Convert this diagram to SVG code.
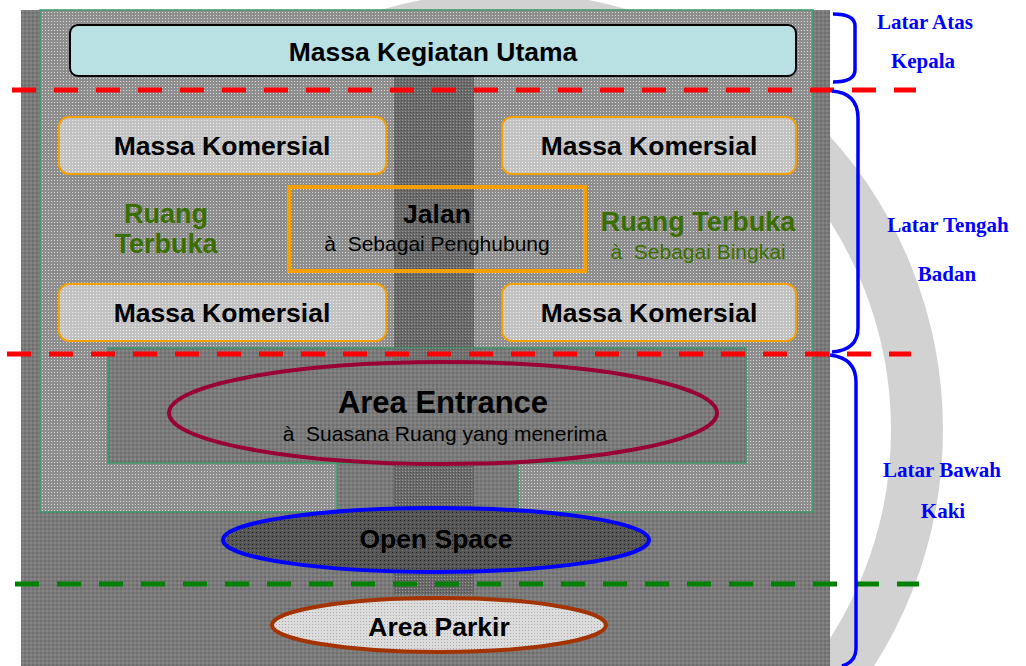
<svg xmlns="http://www.w3.org/2000/svg" width="1026" height="666" viewBox="0 0 1026 666">
<defs>
<pattern id="pLight" width="3" height="3" patternUnits="userSpaceOnUse"><rect width="3" height="3" fill="#8e8e8e"/><rect width="1" height="1" fill="#d8d8d8"/></pattern>
<pattern id="pDark" width="4" height="4" patternUnits="userSpaceOnUse"><rect width="4" height="4" fill="#7a7a7a"/><rect width="2" height="2" fill="#6e6e6e"/><rect x="2" y="2" width="2" height="2" fill="#858585"/></pattern>
<pattern id="pRoad" width="3" height="3" patternUnits="userSpaceOnUse"><rect width="3" height="3" fill="#6a6a6a"/><rect width="1" height="1" fill="#9a9a9a"/><rect x="2" y="1" width="1" height="1" fill="#4e4e4e"/></pattern>
<pattern id="pBox" width="3" height="3" patternUnits="userSpaceOnUse"><rect width="3" height="3" fill="#c2c2c2"/><rect width="1" height="1" fill="#eeeeee"/></pattern>
<pattern id="pOpen" width="4" height="4" patternUnits="userSpaceOnUse"><rect width="4" height="4" fill="#555"/><rect width="1" height="1" fill="#222"/><rect x="2" y="2" width="1" height="1" fill="#777"/></pattern>
<pattern id="pPark" width="3" height="3" patternUnits="userSpaceOnUse"><rect width="3" height="3" fill="#dcdcdc"/><rect width="1" height="1" fill="#a8a8a8"/></pattern>
</defs>
<style>
.t{font-family:"Liberation Sans",Arial,sans-serif;text-anchor:middle;fill:#000}
.b{font-weight:bold;font-size:26.5px}
.s{font-size:21px}
.g{fill:#3a6e00}
.lab{font-family:"Liberation Serif","Times New Roman",serif;font-weight:bold;font-size:21px;fill:#0000ff;text-anchor:middle}
.komer{fill:url(#pBox);stroke:#f5a000;stroke-width:2}
.brace{fill:none;stroke:#0000ff;stroke-width:3.5}
.dash{fill:none;stroke-width:5;stroke-dasharray:24 18}
</style>
<rect width="1026" height="666" fill="#fff"/>
<circle cx="505" cy="430" r="412" fill="none" stroke="#d2d2d2" stroke-width="52"/>
<g id="site">
<rect x="21" y="10" width="809" height="656" fill="url(#pDark)"/>
<polygon points="40,10 813,10 813,512 518,512 518,463 337,463 337,512 40,512" fill="url(#pLight)" stroke="#3a9a6a" stroke-width="1.5"/>
<rect x="394" y="77" width="80" height="518" fill="url(#pRoad)"/>
<rect x="108" y="348" width="638" height="115" fill="url(#pDark)" stroke="#3a9a6a" stroke-width="1.5"/>
<rect x="394" y="348" width="80" height="115" fill="url(#pRoad)" opacity="0.6"/>
</g>
<g id="massa-utama">
<rect x="70" y="25" width="726" height="51" rx="8" fill="#b9e0e3" stroke="#000" stroke-width="2"/>
<text class="t b" x="433" y="61">Massa Kegiatan Utama</text>
</g>
<g id="komersial-1"><rect class="komer" x="59" y="117" width="327" height="57" rx="10"/><text class="t b" x="222" y="155">Massa Komersial</text></g>
<g id="komersial-2"><rect class="komer" x="502" y="117" width="294" height="57" rx="10"/><text class="t b" x="649" y="155">Massa Komersial</text></g>
<g id="komersial-3"><rect class="komer" x="59" y="284" width="327" height="57" rx="10"/><text class="t b" x="222" y="322">Massa Komersial</text></g>
<g id="komersial-4"><rect class="komer" x="502" y="284" width="294" height="57" rx="10"/><text class="t b" x="649" y="322">Massa Komersial</text></g>
<g id="jalan">
<rect x="289" y="187" width="296" height="84" fill="none" stroke="#f5a000" stroke-width="4"/>
<text class="t b" x="437" y="223">Jalan</text>
<text class="t s" x="437" y="251" xml:space="preserve">à  Sebagai Penghubung</text>
</g>
<g id="ruang-terbuka-kiri">
<text class="t g" style="font-weight:bold;font-size:27px" x="166" y="223">Ruang</text>
<text class="t g" style="font-weight:bold;font-size:27px" x="166" y="253">Terbuka</text>
</g>
<g id="ruang-terbuka-kanan">
<text class="t g" style="font-weight:bold;font-size:27px" x="698" y="231">Ruang Terbuka</text>
<text class="t s g" x="698" y="259" xml:space="preserve">à  Sebagai Bingkai</text>
</g>
<g id="area-entrance">
<ellipse cx="443" cy="413" rx="274" ry="51" fill="url(#pDark)" stroke="#990033" stroke-width="4"/>
<text class="t" style="font-weight:bold;font-size:31px" x="443" y="413">Area Entrance</text>
<text class="t s" x="445" y="441" xml:space="preserve">à  Suasana Ruang yang menerima</text>
</g>
<g id="open-space">
<ellipse cx="436" cy="540" rx="213" ry="32" fill="url(#pOpen)" stroke="#0000ff" stroke-width="4"/>
<text class="t b" x="436" y="548">Open Space</text>
</g>
<g id="area-parkir">
<ellipse cx="439" cy="625" rx="167" ry="27" fill="url(#pPark)" stroke="#a33300" stroke-width="4"/>
<text class="t b" x="439" y="636">Area Parkir</text>
</g>
<g id="connectors">
<line class="dash" x1="12" y1="90" x2="916" y2="90" stroke="#ff0000"/>
<line class="dash" x1="7" y1="354" x2="911" y2="354" stroke="#ff0000"/>
<line class="dash" x1="15" y1="584" x2="919" y2="584" stroke="#008000"/>
<path class="brace" d="M833,14 Q855,14 855,26 L855,70 Q855,82 833,82"/>
<path class="brace" d="M832,91 Q858,93 858,118 L858,328 Q858,350 832,352"/>
<path class="brace" d="M830,355 Q856,358 856,382 L856,648 Q856,662 842,666"/>
</g>
<g id="labels">
<text class="lab" x="925" y="29">Latar Atas</text>
<text class="lab" x="923" y="68">Kepala</text>
<text class="lab" x="948" y="232">Latar Tengah</text>
<text class="lab" x="947" y="281">Badan</text>
<text class="lab" x="942" y="477">Latar Bawah</text>
<text class="lab" x="943" y="518">Kaki</text>
</g>
</svg>
